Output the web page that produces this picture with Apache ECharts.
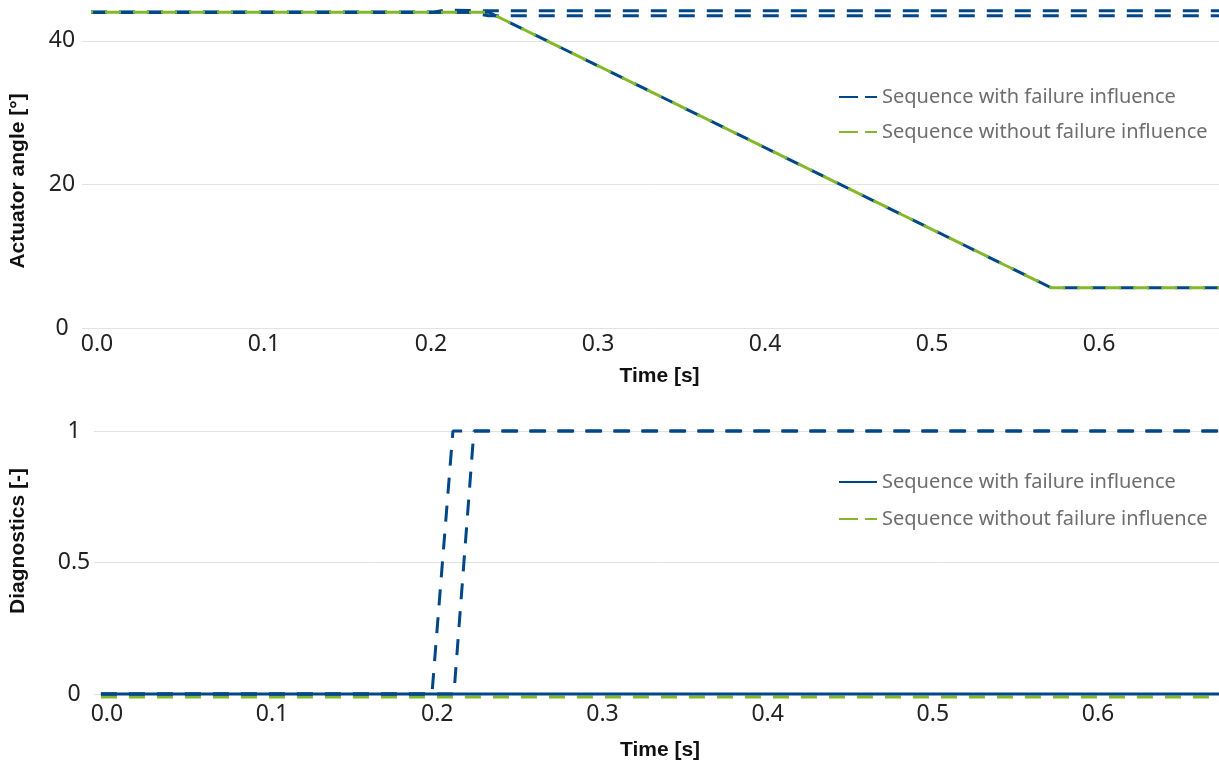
<!DOCTYPE html>
<html><head><meta charset="utf-8">
<script src="https://cdn.jsdelivr.net/npm/echarts@6/dist/echarts.min.js"></script>
<style>html,body{margin:0;padding:0;background:#fff}#c{width:1219px;height:763px}</style>
</head><body><div id="c"></div>
<script>
// ---- data ----
const xTickValues = [0, 0.1, 0.2, 0.3, 0.4, 0.5, 0.6];
const angleYTicks = [0, 20, 40];
const diagYTicks = [0, 0.5, 1];
const legendNames = ['Sequence with failure influence', 'Sequence without failure influence'];

// Top chart: actuator angle [°]
const angleWithFailureRamp = [[0, 44.0], [0.238, 44.0], [0.575, 5.6], [0.676, 5.6]];
const angleWithFailureStuckHigh = [[0, 44.0], [0.205, 44.0], [0.212, 44.3], [0.238, 44.2], [0.676, 44.2]];
const angleWithFailureStuckLow = [[0, 44.0], [0.225, 44.0], [0.238, 43.5], [0.676, 43.5]];
const angleWithoutFailure = [[0, 44.0], [0.238, 44.0], [0.575, 5.6], [0.676, 5.6]];

// Bottom chart: diagnostics [-]
const diagWithFailure = [[0, 0], [0.677, 0]];
const diagStepA = [[0, 0], [0.2004, 0], [0.2131, 1], [0.677, 1]];
const diagStepB = [[0, 0], [0.2137, 0], [0.2258, 1], [0.677, 1]];
const diagWithoutFailure = [[0, -0.011], [0.677, -0.011]];

// ---- styling ----
const BLUE = '#004787';
const GREEN = '#84b82c';
const DASH = [16, 12];
const LEGEND_DASH = { type: [19, 7], dashOffset: 0 };
const tickFont = { fontFamily: 'Noto Sans', fontSize: 23, color: '#222' };
const nameFont = { fontFamily: 'Liberation Sans', fontWeight: 'bold', fontSize: 21, color: '#111' };
const legendText = { fontFamily: 'Noto Sans', fontSize: 20, color: '#6e6e6e' };

function line(name, data, color, dashed, xi, z, offset) {
  return {
    name, type: 'line', data, xAxisIndex: xi, yAxisIndex: xi,
    showSymbol: false, symbol: 'none', clip: false, z: z || 2,
    lineStyle: { color, width: 3, type: dashed ? DASH : 'solid', dashOffset: offset || 0 },
    itemStyle: { color }, animation: false
  };
}

function xAx(gi, min, max, nameGap, labelMargin, namePadLeft) {
  return {
    type: 'value', gridIndex: gi, min, max,
    axisLine: { show: false }, axisTick: { show: false }, splitLine: { show: false },
    axisLabel: Object.assign({ customValues: xTickValues, formatter: v => v.toFixed(1), margin: labelMargin, padding: [0, 0, 0, 12] }, tickFont),
    name: 'Time [s]', nameLocation: 'middle', nameGap,
    nameTextStyle: Object.assign({ padding: [0, 0, 0, namePadLeft] }, nameFont)
  };
}

function yAx(gi, max, ticks, name, nameGap, namePad) {
  return {
    type: 'value', gridIndex: gi, min: 0, max,
    axisLine: { show: false },
    axisTick: { show: false, customValues: ticks },
    axisLabel: Object.assign({ customValues: ticks, margin: 20, align: 'center' }, tickFont),
    splitLine: { lineStyle: { color: '#e2e2e2', width: 1 } },
    name, nameLocation: 'middle', nameGap,
    nameTextStyle: Object.assign({ padding: namePad }, nameFont)
  };
}

const chart = echarts.init(document.getElementById('c'), null, { renderer: 'canvas' });
chart.setOption({
  animation: false,
  grid: [
    { left: 81, right: 0, top: 0, height: 328 },
    { left: 94, right: 0, top: 410, height: 284 }
  ],
  xAxis: [xAx(0, -0.0054, 0.6754, 38, 5, 18), xAx(1, -0.0042, 0.6769, 46, 9, 7)],
  yAxis: [
    yAx(0, 45.7, angleYTicks, 'Actuator angle [°]', 53, [0, 34, 0, 0]),
    yAx(1, 1.08, diagYTicks, 'Diagnostics [-]', 65, [0, 0, 0, 22])
  ],
  legend: [
    {
      data: [
        { name: legendNames[0], lineStyle: LEGEND_DASH },
        { name: legendNames[1], lineStyle: LEGEND_DASH }
      ],
      orient: 'vertical', left: 838, top: 87, padding: 0, itemWidth: 38, itemHeight: 14, itemGap: 15,
      itemStyle: { opacity: 0 },
      textStyle: legendText, selectedMode: false
    },
    {
      data: [
        { name: 'Diag: ' + legendNames[0] },
        { name: 'Diag: ' + legendNames[1], lineStyle: LEGEND_DASH }
      ],
      formatter: n => n.replace('Diag: ', ''),
      orient: 'vertical', left: 838, top: 472, padding: 0, itemWidth: 38, itemHeight: 14, itemGap: 17,
      itemStyle: { opacity: 0 },
      textStyle: legendText, selectedMode: false
    }
  ],
  series: [
    line(legendNames[0], angleWithFailureRamp, BLUE, true, 0, 2),
    line('stuck high', angleWithFailureStuckHigh, BLUE, true, 0, 2),
    line('stuck low', angleWithFailureStuckLow, BLUE, true, 0, 2),
    line(legendNames[1], angleWithoutFailure, GREEN, true, 0, 3, 14),
    line('Diag: ' + legendNames[1], diagWithoutFailure, GREEN, true, 1, 2),
    line('step a', diagStepA, BLUE, true, 1, 3),
    line('step b', diagStepB, BLUE, true, 1, 3),
    line('Diag: ' + legendNames[0], diagWithFailure, BLUE, false, 1, 4)
  ]
});
</script></body></html>
